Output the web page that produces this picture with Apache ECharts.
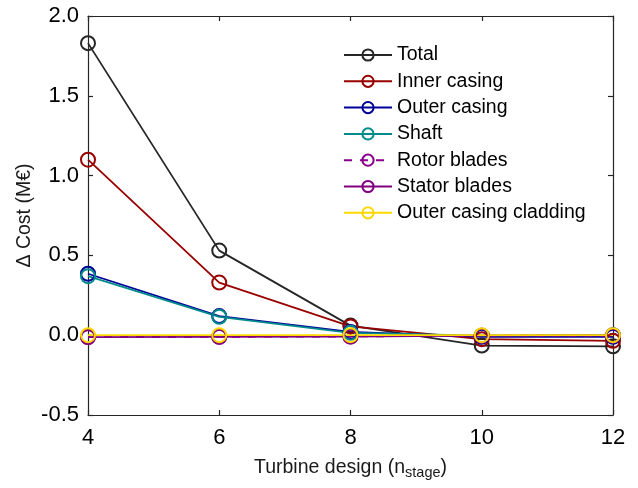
<!DOCTYPE html>
<html>
<head>
<meta charset="utf-8">
<script src="https://cdn.jsdelivr.net/npm/echarts@6/dist/echarts.min.js"></script>
<style>html,body{margin:0;padding:0;background:#fff;}#c{width:638px;height:488px;}</style>
</head>
<body>
<div id="c"></div>
<script>
const stages = [4, 6, 8, 10, 12];
const total = [1.83, 0.53, 0.06, -0.065, -0.07];
const innerCasing = [1.10, 0.33, 0.055, -0.025, -0.035];
const outerCasing = [0.385, 0.12, 0.02, -0.01, -0.01];
const shaft = [0.37, 0.115, 0.015, -0.003, 0.0];
const rotorBlades = [-0.012, -0.01, -0.008, -0.003, -0.002];
const statorBlades = [-0.012, -0.01, -0.008, -0.003, -0.002];
const cladding = [0.0, 0.0, 0.0, 0.0, 0.0];
const yTicks = [-0.5, 0.0, 0.5, 1.0, 1.5, 2.0];

const seriesDefs = [
  {name: 'Total', data: total, color: '#262626', type: 'solid'},
  {name: 'Inner casing', data: innerCasing, color: '#990000', type: 'solid'},
  {name: 'Outer casing', data: outerCasing, color: '#000099', type: 'solid'},
  {name: 'Shaft', data: shaft, color: '#008b8b', type: 'solid'},
  {name: 'Rotor blades', data: rotorBlades, color: '#8b008b', type: [8, 8]},
  {name: 'Stator blades', data: statorBlades, color: '#800080', type: 'solid'},
  {name: 'Outer casing cladding', data: cladding, color: '#ffd700', type: 'solid'}
];

const font = 'Liberation Sans, Arial, Helvetica, sans-serif';
const chart = echarts.init(document.getElementById('c'), null, {renderer: 'canvas'});
const axisLine = {show: true, onZero: false, lineStyle: {color: '#262626', width: 1.2}};
const tick = {show: true, inside: true, length: 5, lineStyle: {color: '#262626', width: 1.2}};
chart.setOption({
  animation: false,
  backgroundColor: '#fff',
  textStyle: {fontFamily: font},
  grid: {left: 88, right: 25, top: 16, bottom: 73, containLabel: false},
  legend: {
    orient: 'vertical',
    left: 338, top: 40,
    itemWidth: 48, itemHeight: 14, itemGap: 6.3,
    textStyle: {fontSize: 19.5, color: '#000', fontFamily: font},
    data: seriesDefs.map(s => s.name)
  },
  xAxis: [{
    type: 'value', min: 4, max: 12, interval: 2,
    name: 'Turbine design (n{sub|stage})', nameLocation: 'middle', nameGap: 40,
    nameTextStyle: {fontSize: 19.5, color: '#1a1a1a', fontFamily: font,
      rich: {sub: {fontSize: 14.5, verticalAlign: 'bottom', padding: [10, 0, 0, 0], fontFamily: font, color: '#1a1a1a'}}},
    axisLine: axisLine,
    axisTick: tick,
    axisLabel: {fontSize: 22, color: '#000', margin: 12, fontFamily: font},
    splitLine: {show: false}
  }, {
    type: 'value', min: 4, max: 12, interval: 2, position: 'top',
    axisLine: axisLine,
    axisTick: tick,
    axisLabel: {show: false}, splitLine: {show: false}
  }],
  yAxis: [{
    type: 'value', min: -0.5, max: 2.0, interval: 0.5,
    name: 'Δ Cost (M€)', nameLocation: 'middle', nameGap: 53, nameMoveOverlap: false,
    nameTextStyle: {fontSize: 19.5, color: '#1a1a1a', fontFamily: font},
    axisLine: axisLine,
    axisTick: tick,
    axisLabel: {fontSize: 22, color: '#000', margin: 9, fontFamily: font,
      formatter: v => v.toFixed(1)},
    splitLine: {show: false}
  }, {
    type: 'value', min: -0.5, max: 2.0, interval: 0.5, position: 'right',
    axisLine: axisLine,
    axisTick: tick,
    axisLabel: {show: false}, splitLine: {show: false}
  }],
  series: seriesDefs.map(s => ({
    name: s.name, type: 'line',
    data: stages.map((x, i) => [x, s.data[i]]),
    symbol: 'circle', symbolSize: 14,
    lineStyle: {color: s.color, width: 1.8, type: s.type},
    itemStyle: {color: 'rgba(255,255,255,0)', borderColor: s.color, borderWidth: 2},
    emphasis: {disabled: true}
  }))
});
</script>
</body>
</html>
